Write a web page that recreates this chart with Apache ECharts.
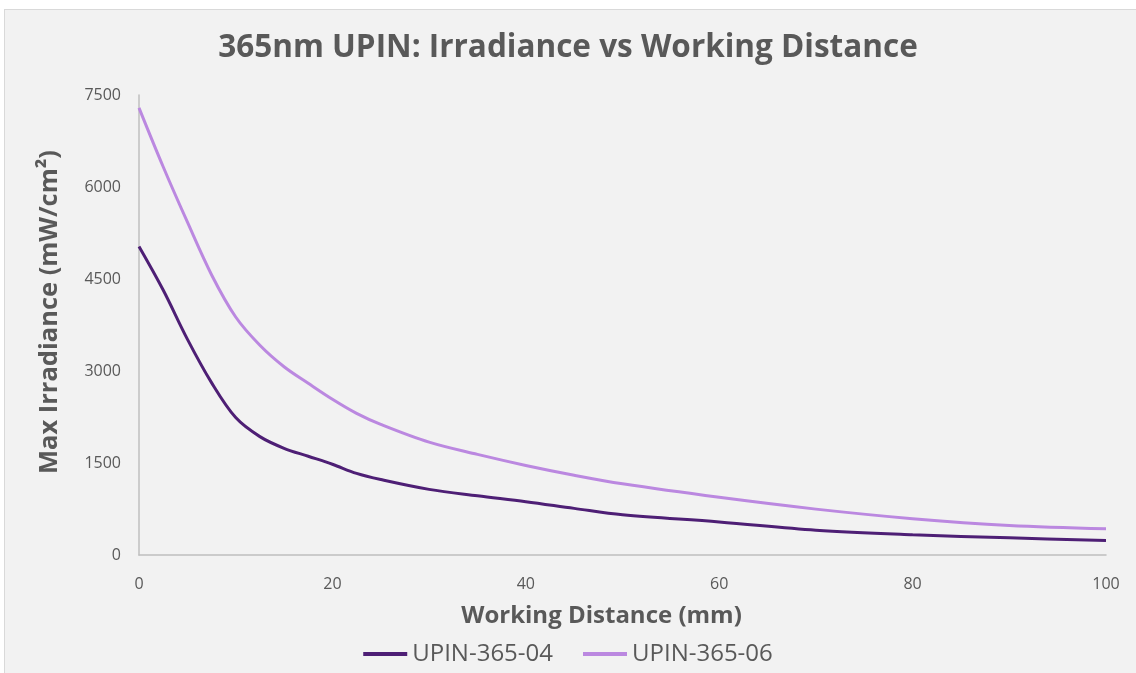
<!DOCTYPE html>
<html>
<head>
<meta charset="utf-8">
<script src="https://cdn.jsdelivr.net/npm/echarts@6/dist/echarts.min.js"></script>
<style>
  html, body { margin: 0; padding: 0; background: #ffffff; }
  #frame { position: absolute; left: 4px; top: 9px; width: 1140px; height: 670px; background: #f2f2f2; border: 1px solid #d9d9d9; box-sizing: border-box; }
  #chart { position: absolute; left: 0; top: 0; width: 1136px; height: 673px; }
</style>
</head>
<body>
<div id="frame"></div>
<div id="chart"></div>
<script>
const distances = [0, 2.5, 5, 7.5, 10, 12.5, 15, 17.5, 20, 22.5, 25, 30, 35, 40, 45, 50, 60, 70, 80, 90, 100];
const upin04 = [5030, 4320, 3520, 2810, 2240, 1930, 1740, 1610, 1480, 1330, 1230, 1070, 965, 870, 760, 655, 540, 405, 330, 280, 235];
const upin06 = [7290, 6330, 5430, 4570, 3880, 3420, 3070, 2800, 2540, 2310, 2130, 1840, 1640, 1460, 1300, 1160, 940, 748, 592, 482, 428];
const seriesNames = ['UPIN-365-04', 'UPIN-365-06'];
const yTicks = [0, 1500, 3000, 4500, 6000, 7500];
const xTicks = [0, 20, 40, 60, 80, 100];

const txt = '#595959';
const font = '"Open Sans", sans-serif';

const chart = echarts.init(document.getElementById('chart'), null, { renderer: 'canvas' });
const pair = arr => distances.map((d, i) => [d, arr[i]]);

chart.setOption({
  backgroundColor: 'transparent',
  animation: false,
  title: {
    text: '365nm UPIN: Irradiance vs Working Distance',
    left: 'center',
    top: 27,
    textStyle: { fontFamily: font, fontSize: 31.5, fontWeight: 'bold', color: txt }
  },
  legend: {
    data: seriesNames,
    bottom: 2,
    left: 'center',
    itemWidth: 44,
    itemHeight: 4,
    itemGap: 30,
    icon: 'rect',
    textStyle: { fontFamily: font, fontSize: 24, color: txt, padding: [0, 0, 0, 0] }
  },
  grid: { left: 139, right: 30, top: 95, bottom: 118 },
  xAxis: {
    type: 'value',
    min: xTicks[0],
    max: xTicks[xTicks.length - 1],
    interval: 20,
    name: 'Working Distance (mm)',
    nameLocation: 'middle',
    nameGap: 49,
    nameTextStyle: { fontFamily: font, fontSize: 24, fontWeight: 'bold', color: txt, padding: [0, 42, 0, 0] },
    axisLine: { show: true, lineStyle: { color: '#bfbfbf', width: 1.5 } },
    axisTick: { show: false },
    splitLine: { show: false },
    axisLabel: { fontFamily: font, fontSize: 16, color: txt, margin: 21, formatter: v => String(v) }
  },
  yAxis: {
    type: 'value',
    min: yTicks[0],
    max: yTicks[yTicks.length - 1],
    interval: 1500,
    name: 'Max Irradiance (mW/cm²)',
    nameLocation: 'middle',
    nameGap: 76,
    nameRotate: 90,
    nameTextStyle: { fontFamily: font, fontSize: 25.5, fontWeight: 'bold', color: txt, padding: [0, 0, 0, 26] },
    axisLine: { show: true, lineStyle: { color: '#bfbfbf', width: 1.5 } },
    axisTick: { show: false },
    splitLine: { show: false },
    axisLabel: { fontFamily: font, fontSize: 16, color: txt, margin: 18, formatter: v => String(v) }
  },
  series: [
    {
      name: seriesNames[0], type: 'line', smooth: 0.35, showSymbol: false,
      data: pair(upin04), color: '#4e1f75',
      lineStyle: { width: 3, color: '#4e1f75' }
    },
    {
      name: seriesNames[1], type: 'line', smooth: 0.35, showSymbol: false,
      data: pair(upin06), color: '#bb88e0',
      lineStyle: { width: 3, color: '#bb88e0' }
    }
  ]
});
</script>
</body>
</html>
